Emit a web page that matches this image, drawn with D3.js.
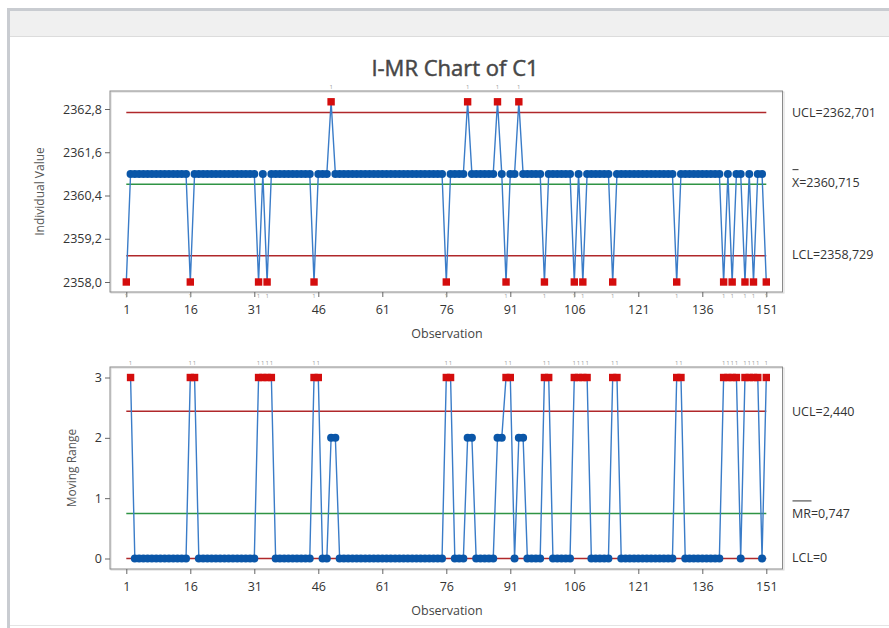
<!DOCTYPE html>
<html lang="en">
<head>
<meta charset="UTF-8">
<title>I-MR Chart of C1</title>
<script src="https://d3js.org/d3.v7.min.js"></script>
<style>
  body { margin: 0; background: #fff; }
  text { font-family: "Open Sans", "Noto Sans", sans-serif; }
  .axis path { display: none; }
  .axis line { stroke: #666; }
  .axis text { font-size: 12.5px; fill: #333; }
</style>
</head>
<body>
<div id="chart"></div>
<script>
// individual values, observations 1..151
var values = [
  2358,2361,2361,2361,2361,2361,2361,2361,2361,2361,
  2361,2361,2361,2361,2361,2358,2361,2361,2361,2361,
  2361,2361,2361,2361,2361,2361,2361,2361,2361,2361,
  2361,2358,2361,2358,2361,2361,2361,2361,2361,2361,
  2361,2361,2361,2361,2358,2361,2361,2361,2363,2361,
  2361,2361,2361,2361,2361,2361,2361,2361,2361,2361,
  2361,2361,2361,2361,2361,2361,2361,2361,2361,2361,
  2361,2361,2361,2361,2361,2358,2361,2361,2361,2361,
  2363,2361,2361,2361,2361,2361,2361,2363,2361,2358,
  2361,2361,2363,2361,2361,2361,2361,2361,2358,2361,
  2361,2361,2361,2361,2361,2358,2361,2358,2361,2361,
  2361,2361,2361,2361,2358,2361,2361,2361,2361,2361,
  2361,2361,2361,2361,2361,2361,2361,2361,2361,2358,
  2361,2361,2361,2361,2361,2361,2361,2361,2361,2361,
  2358,2361,2358,2361,2361,2358,2361,2358,2361,2361,
  2358
];

var xTicks = [1, 16, 31, 46, 61, 76, 91, 106, 121, 136, 151];
var iTicks = [2358.0, 2359.2, 2360.4, 2361.6, 2362.8];
var mrTicks = [0, 1, 2, 3];

var iLimits = { ucl: 2362.701, cl: 2360.715, lcl: 2358.729 };
var mrLimits = { ucl: 2.440, cl: 0.747, lcl: 0 };

var W = 889, H = 628;
var comma = d3.formatLocale({ decimal: ",", thousands: "", grouping: [3], currency: ["", ""] });
var f1 = comma.format(".1f"), f3 = comma.format(".3f");

var pts = values.map(function(v, i) { return { obs: i + 1, v: v }; });
// moving range of consecutive observations
var mr = d3.pairs(pts).map(function(p) { return { obs: p[1].obs, v: Math.abs(p[1].v - p[0].v) }; });

var svg = d3.select("#chart").append("svg")
  .attr("width", W).attr("height", H);

// window frame
svg.append("rect").attr("x", 0).attr("y", 0).attr("width", W).attr("height", H).attr("fill", "#fff");
svg.append("rect").attr("x", 7).attr("y", 8).attr("width", W - 7).attr("height", 28).attr("fill", "#f0f0f0");
svg.append("rect").attr("x", 7).attr("y", 8).attr("width", W - 7).attr("height", 3).attr("fill", "#c9ccd1");
svg.append("line").attr("x1", 10).attr("x2", W).attr("y1", 36.5).attr("y2", 36.5).attr("stroke", "#dcdcdc");
svg.append("rect").attr("x", 7).attr("y", 8).attr("width", 3).attr("height", H - 8).attr("fill", "#c9ccd1");
svg.append("line").attr("x1", 10).attr("x2", W).attr("y1", 625.5).attr("y2", 625.5).attr("stroke", "#e4e4e4");

svg.append("text")
  .attr("x", 455).attr("y", 76)
  .attr("text-anchor", "middle")
  .style("font-size", "22px").style("fill", "#474747")
  .style("stroke", "#474747").style("stroke-width", 0.5)
  .text("I-MR Chart of C1");

var x = d3.scaleLinear().domain([1, 151]).range([126.3, 766.3]);

function panel(opt) {
  var g = svg.append("g");
  var y = opt.y;

  // frame with light shadow
  g.append("rect").attr("x", 111).attr("y", opt.top + 1).attr("width", 673).attr("height", opt.bottom - opt.top)
    .attr("fill", "none").attr("stroke", "#d8d8d8");
  g.append("rect").attr("x", 110).attr("y", opt.top).attr("width", 672.5).attr("height", opt.bottom - opt.top)
    .attr("fill", "none").attr("stroke", "#8a8a8a");

  g.append("g").attr("class", "axis")
    .attr("transform", "translate(0," + opt.bottom + ")")
    .call(d3.axisBottom(x).tickValues(xTicks).tickSize(5).tickPadding(5).tickFormat(d3.format("d")))
    .selectAll("text").attr("dy", "0.95em");

  g.append("g").attr("class", "axis")
    .attr("transform", "translate(110,0)")
    .call(d3.axisLeft(y).tickValues(opt.ticks).tickSize(5).tickPadding(3).tickFormat(opt.fmt));

  // control lines
  var lim = opt.limits;
  [["ucl", "#b0282b"], ["cl", "#2f9444"], ["lcl", "#b0282b"]].forEach(function(l) {
    g.append("line")
      .attr("x1", x(1)).attr("x2", x(151))
      .attr("y1", y(lim[l[0]])).attr("y2", y(lim[l[0]]))
      .attr("stroke", l[1]).attr("stroke-width", 1.5);
  });

  var line = d3.line().x(function(d) { return x(d.obs); }).y(function(d) { return y(d.v); });
  g.append("path").datum(opt.data).attr("d", line)
    .attr("fill", "none").attr("stroke", "#3a7cc8").attr("stroke-width", 1.4);

  var out = function(d) { return d.v > lim.ucl || d.v < lim.lcl; };

  g.selectAll(".dot").data(opt.data.filter(function(d) { return !out(d); }))
    .enter().append("circle")
    .attr("cx", function(d) { return x(d.obs); })
    .attr("cy", function(d) { return y(d.v); })
    .attr("r", 4).attr("fill", "#0a56a8");

  g.selectAll(".sq").data(opt.data.filter(out))
    .enter().append("rect")
    .attr("x", function(d) { return x(d.obs) - 3.7; })
    .attr("y", function(d) { return y(d.v) - 3.7; })
    .attr("width", 7.4).attr("height", 7.4).attr("fill", "#d40d0d");

  // test 1 failure flags
  g.selectAll(".flag").data(opt.data.filter(out))
    .enter().append("text")
    .attr("x", function(d) { return x(d.obs); })
    .attr("y", function(d) { return d.v < lim.lcl ? opt.bottom + 6 : opt.top - 2; })
    .attr("text-anchor", "middle")
    .style("font-size", "6px").style("fill", "#a0a0a0")
    .text("1");

  g.append("text")
    .attr("x", 447).attr("y", opt.bottom + 46)
    .attr("text-anchor", "middle")
    .style("font-size", "12.5px").style("fill", "#444")
    .text("Observation");

  g.append("text")
    .attr("transform", "translate(" + opt.ylabX + "," + ((opt.top + opt.bottom) / 2) + ") rotate(-90)")
    .attr("text-anchor", "middle")
    .style("font-size", "12px").style("fill", "#555")
    .text(opt.ylab);

  opt.labels.forEach(function(lb) {
    var t = g.append("text")
      .attr("x", 792).attr("y", y(lb.v) + (lb.dy || 0))
      .attr("dy", "0.35em")
      .style("font-size", "12.5px").style("fill", "#333");
    t.text(lb.text);
    if (lb.bar) {
      g.append("line")
        .attr("x1", 792.5).attr("x2", 792.5 + lb.bar)
        .attr("y1", y(lb.v) + (lb.dy || 0) - 12.5).attr("y2", y(lb.v) + (lb.dy || 0) - 12.5)
        .attr("stroke", "#333").attr("stroke-width", 1);
    }
  });
}

panel({
  data: pts, top: 91, bottom: 292,
  y: d3.scaleLinear().domain([2358, 2362.8]).range([282, 109]),
  ticks: iTicks, fmt: f1, limits: iLimits,
  ylab: "Individual Value", ylabX: 44,
  labels: [
    { v: iLimits.ucl, text: "UCL=" + f3(iLimits.ucl) },
    { v: iLimits.cl, text: "X=" + f3(iLimits.cl), dy: -2, bar: 6 },
    { v: iLimits.lcl, text: "LCL=" + f3(iLimits.lcl), dy: -1 }
  ]
});

panel({
  data: mr, top: 367, bottom: 569,
  y: d3.scaleLinear().domain([0, 3]).range([558.5, 377.5]),
  ticks: mrTicks, fmt: d3.format("d"), limits: mrLimits,
  ylab: "Moving Range", ylabX: 76,
  labels: [
    { v: mrLimits.ucl, text: "UCL=" + f3(mrLimits.ucl) },
    { v: mrLimits.cl, text: "MR=" + f3(mrLimits.cl), bar: 19 },
    { v: mrLimits.lcl, text: "LCL=" + mrLimits.lcl, dy: -1 }
  ]
});
</script>
</body>
</html>
